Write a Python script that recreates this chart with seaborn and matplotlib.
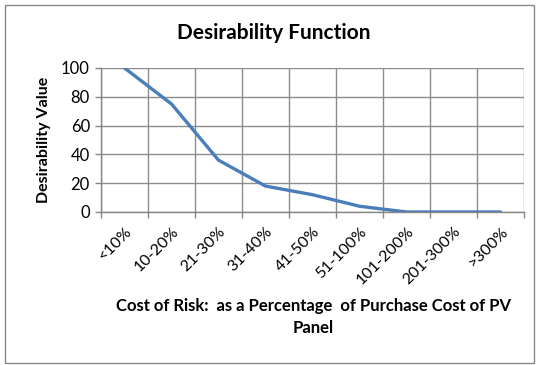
import numpy as np
import pandas as pd
import matplotlib
matplotlib.use("Agg")
import matplotlib.pyplot as plt
from matplotlib.patches import Rectangle
import seaborn as sns

# chart data
cost_bands = ["<10%", "10-20%", "21-30%", "31-40%", "41-50%",
              "51-100%", "101-200%", "201-300%", ">300%"]
desirability = [100, 75, 36, 18, 12, 4, 0, 0, 0]

df = pd.DataFrame({"band": cost_bands, "value": desirability})

sns.set_theme(style="white")
plt.rcParams["font.family"] = ["Lato", "DejaVu Sans"]
plt.rcParams["text.color"] = "black"
plt.rcParams["xtick.color"] = "black"
plt.rcParams["ytick.color"] = "black"
plt.rcParams["axes.labelcolor"] = "black"

fig = plt.figure(figsize=(5.39, 3.65), dpi=100)
ax = fig.add_axes([101 / 539, 1 - 212 / 365, 423 / 539, 144 / 365])

sns.lineplot(data=df, x="band", y="value", ax=ax, color="#4A7EBB",
             linewidth=2.4, sort=False)

n = len(cost_bands)
ax.set_xlim(-0.5, n - 0.5)
ax.set_ylim(0, 100)
ax.set_yticks(np.arange(0, 101, 20))
ax.set_xticks(np.arange(n))
ax.set_xticklabels(cost_bands, rotation=45, ha="right", rotation_mode="anchor",
                   fontsize=11.5)
ax.set_xticks(np.arange(-0.5, n, 1.0), minor=True)
ax.tick_params(axis="x", which="major", length=0, pad=9)
ax.tick_params(axis="x", which="minor", length=4, width=1, color="#868686",
               direction="out", bottom=True)
ax.tick_params(axis="y", length=4, width=1, color="#868686", direction="out",
               left=True, labelsize=12, pad=4, labelcolor="black")

ax.grid(True, axis="y", color="#8C8C8C", linewidth=1)
ax.grid(True, axis="x", which="minor", color="#8C8C8C", linewidth=1)
ax.grid(False, axis="x", which="major")
for side in ["top", "right"]:
    ax.spines[side].set_visible(False)
for side in ["left", "bottom"]:
    ax.spines[side].set_color("#868686")
    ax.spines[side].set_linewidth(1)
ax.set_axisbelow(True)

ax.set_xlabel("")
ax.set_ylabel("Desirability Value", fontsize=11.5, fontweight="bold", labelpad=7)

fig.text(274 / 539, 1 - 33 / 365, "Desirability Function", ha="center",
         va="center", fontsize=15, fontweight="bold")
fig.text(313 / 539, 1 - 317 / 365,
         "Cost of Risk:  as a Percentage  of Purchase Cost of PV\nPanel",
         ha="center", va="center", fontsize=12, fontweight="bold",
         linespacing=1.5)

# chart border
fig.patches.append(Rectangle((5 / 539, 2 / 365), 529 / 539, 358 / 365,
                             transform=fig.transFigure, fill=False,
                             edgecolor="#888888", linewidth=1))

fig.savefig("out.png", dpi=100)
